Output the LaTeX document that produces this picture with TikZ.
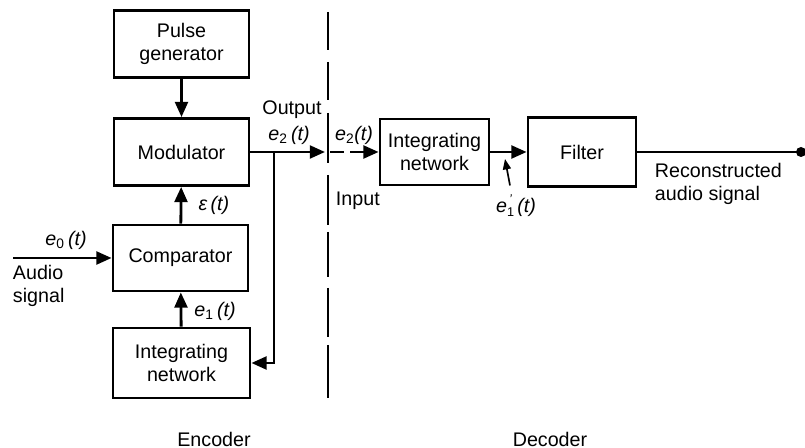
\documentclass[tikz,border=0pt]{standalone}
\usepackage{fontspec}
\setmainfont{Liberation Sans}
\usepackage{tikz}
\usetikzlibrary{arrows.meta,calc,positioning}
\tikzset{
    myblock/.style={draw=black,line width=2pt,align=center,inner sep=2pt},
    myline/.style={line width=2pt,draw=black},
    myarrow/.style={myline,-{Triangle[length=3.8mm,width=3.2mm]}},
    mydivider/.style={line width=1.4pt,draw=black},
    every node/.style={font=\fontsize{14}{16.5}\selectfont}
}
\newcommand{\sigv}[1]{\textit{e}\textsubscript{#1}\,\textit{(t)}}

\begin{document}
\begin{tikzpicture}[x=0.025cm,y=0.025cm]
  \useasboundingbox (0,0) rectangle (805,448);
  % encoder blocks
  \node[myblock,minimum width=3.375cm,minimum height=1.675cm] (pulse) at (181.5,404) {Pulse\\generator};
  \node[myblock,minimum width=3.375cm,minimum height=1.675cm] (mod) at (181.5,296) {Modulator};
  \node[myblock,minimum width=3.375cm,minimum height=1.65cm] (comp) at (180.5,190) {Comparator};
  \node[myblock,minimum width=3.425cm,minimum height=1.75cm] (intE) at (181.5,85) {Integrating\\network};
  % decoder blocks
  \node[myblock,minimum width=2.725cm,minimum height=1.65cm] (intD) at (434.5,296) {Integrating\\network};
  \node[myblock,minimum width=2.7cm,minimum height=1.725cm] (filt) at (582,296) {Filter};
  \coordinate (ain) at (13,190);
  \coordinate (out) at (325,296);
  \coordinate (br) at (274,296);
  \coordinate (din) at (330,296);
  \coordinate (rec) at (801,296);
  \coordinate (tap) at (505,289);
  % encoder connections
  \draw[myarrow] (pulse) -- (mod);
  \draw[myarrow] (comp) -- (mod);
  \draw[myarrow] (intE) -- (comp);
  \draw[myarrow] (ain) -- (comp.west);
  \draw[myarrow] (mod.east) -- (out);
  \draw[myarrow] (br) |- (intE.east);
  % channel boundary, drawn piece by piece
  \foreach \a/\b in {436/398,386/348,335/285,273/223,216/171,160/111,103/50}
    \draw[mydivider] (328,\a) -- (328,\b);
  % decoder connections
  \draw[myarrow,dash pattern=on 10pt off 4.5pt] (din) -- (intD.west);
  \draw[myarrow] (intD) -- (filt);
  \draw[myline] (filt) -- (rec);
  \fill (rec) circle (5);
  % signal labels
  \node (eps) at (214,243) {\textit{ε\,(t)}};
  \node (e1) at (215,137) {\sigv{1}};
  \node (e0) at (66,208) {\sigv{0}};
  \node[align=left,anchor=west] (audio) at (8,162) {Audio\\signal};
  \node (outlbl) at (292,338) {Output};
  \node (e2o) at (289,313) {\sigv{2}};
  \node (e2i) at (354,313) {\textit{e}\textsubscript{2}\textit{(t)}};
  \node[anchor=west] (inlbl) at (331,247) {Input};
  \node (e1p) at (516,242) {\textit{e}\raisebox{-0.45ex}{\fontsize{9}{7}\selectfont\shortstack[l]{\kern1.5pt\textit{'}\\1}}\,\textit{(t)}};
  \draw[line width=1.2pt,-{Triangle[length=2.6mm,width=2mm]}] ([xshift=-0.15cm,yshift=0.12cm]e1p.north) -- (tap);
  \node[align=left,anchor=west] (reclbl) at (650,264) {Reconstructed\\audio signal};
  \node (enc) at (214,9) {Encoder};
  \node (dec) at (550,9) {Decoder};
\end{tikzpicture}
\end{document}
